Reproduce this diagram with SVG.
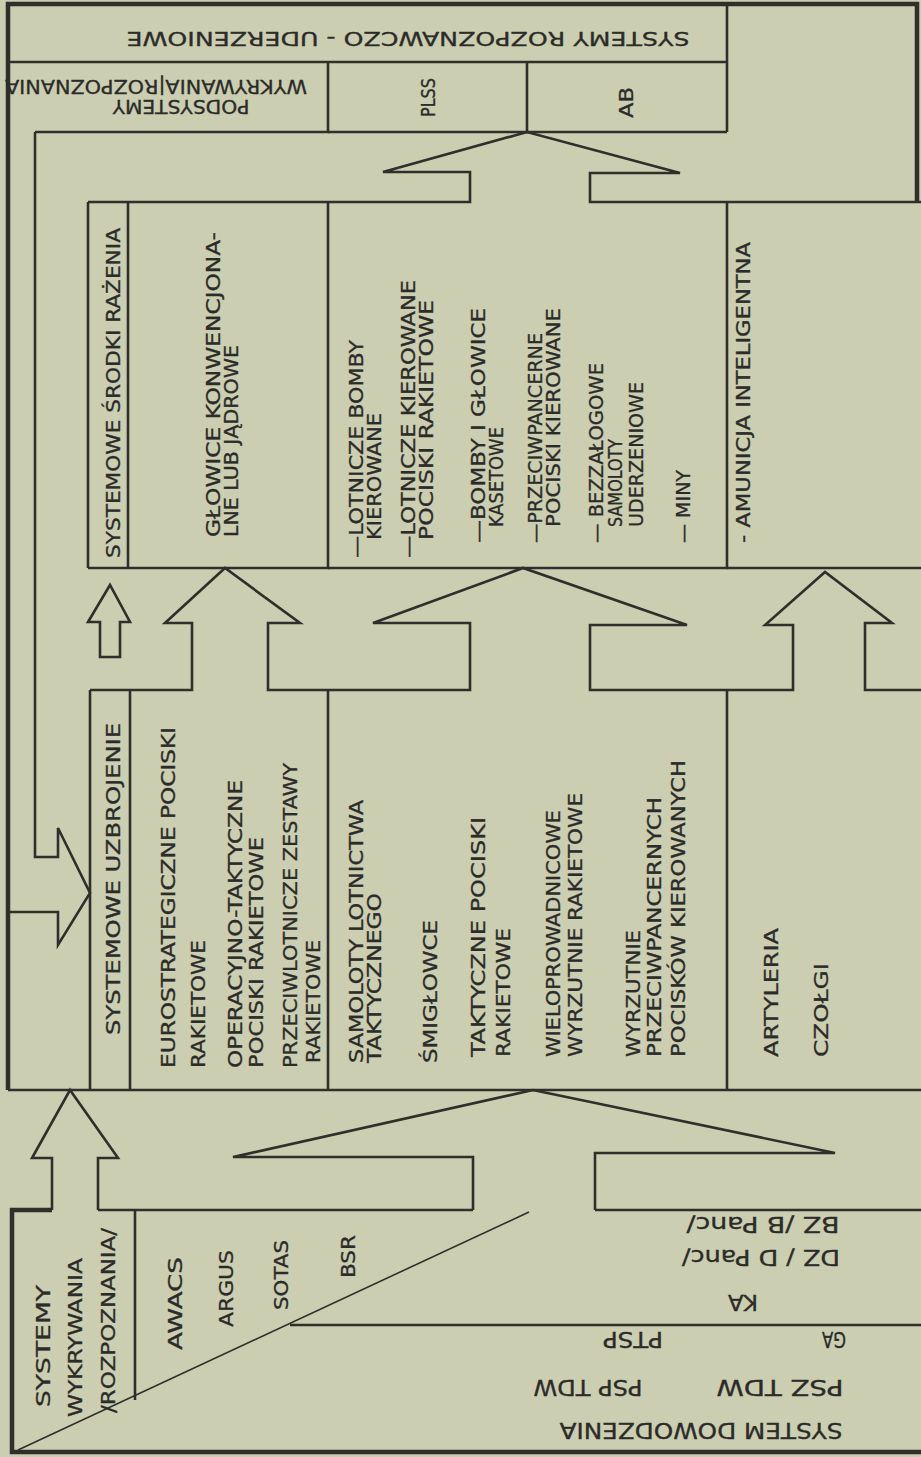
<svg xmlns="http://www.w3.org/2000/svg" width="921" height="1457" viewBox="0 0 921 1457">
<style>
.t{font-family:'DejaVu Sans Condensed','DejaVu Sans','Liberation Sans',sans-serif;font-size:20px;fill:#2b2b29;stroke:#2b2b29;stroke-width:0.3;}
.b{font-size:22px;}
.ln{fill:none;stroke:#2f2f2b;stroke-width:2.6;stroke-linejoin:miter;}
.thick{stroke-width:4.5;}
.thin{stroke-width:1.6;}
</style>
<rect x="0" y="0" width="921" height="1457" fill="#cbceb1"/>

<g id="frame">
<path class="ln thick" d="M917,202 V4 H8 V1090"/>
</g>

<g id="system-rozpoznawczo-uderzeniowe">
<path class="ln" d="M8,62 H727 M727,4 V132"/>
<text class="t" transform="rotate(180 408 32)" x="408" y="32" text-anchor="middle" textLength="563" lengthAdjust="spacingAndGlyphs">SYSTEMY ROZPOZNAWCZO - UDERZENIOWE</text>
</g>

<g id="podsystemy-wykrywania">
<path class="ln" d="M35,132 H328 V62"/>
<text class="t" transform="rotate(180 181 100)" x="181" y="100" text-anchor="middle" textLength="137" lengthAdjust="spacingAndGlyphs">PODSYSTEMY</text>
<text class="t" transform="rotate(180 156 80)" x="156" y="80" text-anchor="middle" textLength="302" lengthAdjust="spacingAndGlyphs">WYKRYWANIA|ROZPOZNANIA</text>
</g>

<g id="plss">
<path class="ln" d="M328,132 H527 V62"/>
<text class="t" transform="rotate(-90 435 117)" x="435" y="117" textLength="39" lengthAdjust="spacingAndGlyphs">PLSS</text>
</g>

<g id="ab">
<path class="ln" d="M527,132 H727"/>
<text class="t" transform="rotate(-90 633 118)" x="633" y="118" textLength="31" lengthAdjust="spacingAndGlyphs">AB</text>
</g>

<g id="srodki-razenia-header">
<path class="ln" d="M88,202 V568 M128,202 V568"/>
<text class="t" transform="rotate(-90 120 558)" x="120" y="558" textLength="330" lengthAdjust="spacingAndGlyphs">SYSTEMOWE ŚRODKI RAŻENIA</text>
</g>

<g id="glowice">
<path class="ln" d="M88,568 H328 V202"/>
<text class="t" transform="rotate(-90 220 537)" x="220" y="537" textLength="305" lengthAdjust="spacingAndGlyphs">GŁOWICE KONWENCJONA-</text>
<text class="t" transform="rotate(-90 238 537)" x="238" y="537" textLength="192" lengthAdjust="spacingAndGlyphs">LNE LUB JĄDROWE</text>
</g>

<g id="lotnicze">
<path class="ln" d="M328,568 H727 V202"/>
<text class="t" transform="rotate(-90 363 558)" x="363" y="558" textLength="218" lengthAdjust="spacingAndGlyphs">—LOTNICZE BOMBY</text>
<text class="t" transform="rotate(-90 381 540)" x="381" y="540" textLength="127" lengthAdjust="spacingAndGlyphs">KIEROWANE</text>
<text class="t" transform="rotate(-90 415 558)" x="415" y="558" textLength="278" lengthAdjust="spacingAndGlyphs">—LOTNICZE KIEROWANE</text>
<text class="t" transform="rotate(-90 433 540)" x="433" y="540" textLength="240" lengthAdjust="spacingAndGlyphs">POCISKI RAKIETOWE</text>
<text class="t" transform="rotate(-90 485 543)" x="485" y="543" textLength="235" lengthAdjust="spacingAndGlyphs">—BOMBY I GŁOWICE</text>
<text class="t" transform="rotate(-90 503 527)" x="503" y="527" textLength="100" lengthAdjust="spacingAndGlyphs">KASETOWE</text>
<text class="t" transform="rotate(-90 542 543)" x="542" y="543" textLength="210" lengthAdjust="spacingAndGlyphs">—PRZECIWPANCERNE</text>
<text class="t" transform="rotate(-90 560 527)" x="560" y="527" textLength="219" lengthAdjust="spacingAndGlyphs">POCISKI KIEROWANE</text>
<text class="t" transform="rotate(-90 603 543)" x="603" y="543" textLength="180" lengthAdjust="spacingAndGlyphs">— BEZZAŁOGOWE</text>
<text class="t" transform="rotate(-90 622 527)" x="622" y="527" textLength="88" lengthAdjust="spacingAndGlyphs">SAMOLOTY</text>
<text class="t" transform="rotate(-90 643 527)" x="643" y="527" textLength="145" lengthAdjust="spacingAndGlyphs">UDERZENIOWE</text>
<text class="t" transform="rotate(-90 690 543)" x="690" y="543" textLength="73" lengthAdjust="spacingAndGlyphs">— MINY</text>
</g>

<g id="amunicja">
<path class="ln" d="M727,568 H921"/>
<text class="t" transform="rotate(-90 750 543)" x="750" y="543" textLength="301" lengthAdjust="spacingAndGlyphs">- AMUNICJA INTELIGENTNA</text>
</g>

<g id="uzbrojenie-header">
<path class="ln" d="M90,690 V1090 M130,690 V1090"/>
<text class="t" transform="rotate(-90 120 1035)" x="120" y="1035" textLength="312" lengthAdjust="spacingAndGlyphs">SYSTEMOWE UZBROJENIE</text>
</g>

<g id="pociski-rakietowe">
<path class="ln" d="M328,690 V1090"/>
<text class="t" transform="rotate(-90 175 1068)" x="175" y="1068" textLength="341" lengthAdjust="spacingAndGlyphs">EUROSTRATEGICZNE POCISKI</text>
<text class="t" transform="rotate(-90 205 1068)" x="205" y="1068" textLength="128" lengthAdjust="spacingAndGlyphs">RAKIETOWE</text>
<text class="t" transform="rotate(-90 242 1068)" x="242" y="1068" textLength="288" lengthAdjust="spacingAndGlyphs">OPERACYJNO-TAKTYCZNE</text>
<text class="t" transform="rotate(-90 263 1068)" x="263" y="1068" textLength="231" lengthAdjust="spacingAndGlyphs">POCISKI RAKIETOWE</text>
<text class="t" transform="rotate(-90 297 1068)" x="297" y="1068" textLength="305" lengthAdjust="spacingAndGlyphs">PRZECIWLOTNICZE ZESTAWY</text>
<text class="t" transform="rotate(-90 320 1063)" x="320" y="1063" textLength="123" lengthAdjust="spacingAndGlyphs">RAKIETOWE</text>
</g>

<g id="lotnictwo-i-wyrzutnie">
<path class="ln" d="M727,690 V1090"/>
<text class="t" transform="rotate(-90 363 1063)" x="363" y="1063" textLength="263" lengthAdjust="spacingAndGlyphs">SAMOLOTY LOTNICTWA</text>
<text class="t" transform="rotate(-90 381 1063)" x="381" y="1063" textLength="170" lengthAdjust="spacingAndGlyphs">TAKTYCZNEGO</text>
<text class="t" transform="rotate(-90 437 1063)" x="437" y="1063" textLength="143" lengthAdjust="spacingAndGlyphs">ŚMIGŁOWCE</text>
<text class="t" transform="rotate(-90 485 1057)" x="485" y="1057" textLength="240" lengthAdjust="spacingAndGlyphs">TAKTYCZNE POCISKI</text>
<text class="t" transform="rotate(-90 510 1057)" x="510" y="1057" textLength="129" lengthAdjust="spacingAndGlyphs">RAKIETOWE</text>
<text class="t" transform="rotate(-90 560 1057)" x="560" y="1057" textLength="247" lengthAdjust="spacingAndGlyphs">WIELOPROWADNICOWE</text>
<text class="t" transform="rotate(-90 582 1057)" x="582" y="1057" textLength="264" lengthAdjust="spacingAndGlyphs">WYRZUTNIE RAKIETOWE</text>
<text class="t" transform="rotate(-90 640 1057)" x="640" y="1057" textLength="127" lengthAdjust="spacingAndGlyphs">WYRZUTNIE</text>
<text class="t" transform="rotate(-90 661 1057)" x="661" y="1057" textLength="260" lengthAdjust="spacingAndGlyphs">PRZECIWPANCERNYCH</text>
<text class="t" transform="rotate(-90 685 1057)" x="685" y="1057" textLength="297" lengthAdjust="spacingAndGlyphs">POCISKÓW KIEROWANYCH</text>
</g>

<g id="artyleria">
<path class="ln" d="M8,1090 H921"/>
<text class="t" transform="rotate(-90 778 1057)" x="778" y="1057" textLength="129" lengthAdjust="spacingAndGlyphs">ARTYLERIA</text>
<text class="t" transform="rotate(-90 828 1057)" x="828" y="1057" textLength="94" lengthAdjust="spacingAndGlyphs">CZOŁGI</text>
</g>

<g id="systemy-wykrywania">
<path class="ln thick" d="M52,1210 H12 V1452 H921"/>
<path class="ln" d="M98,1210 H473 M595,1210 H921"/>
<path class="ln" d="M135,1210 V1400"/>
<path class="ln thin" d="M18,1450 L529,1212"/>
<text class="t" transform="rotate(-90 50 1407)" x="50" y="1407" textLength="122" lengthAdjust="spacingAndGlyphs">SYSTEMY</text>
<text class="t" transform="rotate(-90 82 1417)" x="82" y="1417" textLength="159" lengthAdjust="spacingAndGlyphs">WYKRYWANIA</text>
<text class="t" transform="rotate(-90 115 1413)" x="115" y="1413" textLength="185" lengthAdjust="spacingAndGlyphs">/ROZPOZNANIA/</text>
<text class="t" transform="rotate(-90 182 1350)" x="182" y="1350" textLength="93" lengthAdjust="spacingAndGlyphs">AWACS</text>
<text class="t" transform="rotate(-90 233 1327)" x="233" y="1327" textLength="77" lengthAdjust="spacingAndGlyphs">ARGUS</text>
<text class="t" transform="rotate(-90 288 1310)" x="288" y="1310" textLength="70" lengthAdjust="spacingAndGlyphs">SOTAS</text>
<text class="t" transform="rotate(-90 355 1278)" x="355" y="1278" textLength="43" lengthAdjust="spacingAndGlyphs">BSR</text>
</g>

<g id="system-dowodzenia">
<path class="ln" d="M290,1325 H921"/>
<text class="t b" transform="rotate(180 763 1217)" x="763" y="1217" text-anchor="middle" textLength="153" lengthAdjust="spacingAndGlyphs">BZ /B Panc/</text>
<text class="t b" transform="rotate(180 761 1250)" x="761" y="1250" text-anchor="middle" textLength="158" lengthAdjust="spacingAndGlyphs">DZ / D Panc/</text>
<text class="t b" transform="rotate(180 743 1295)" x="743" y="1295" text-anchor="middle" textLength="30" lengthAdjust="spacingAndGlyphs">KA</text>
<text class="t b" transform="rotate(180 834 1332)" x="834" y="1332" text-anchor="middle" textLength="24" lengthAdjust="spacingAndGlyphs">GA</text>
<text class="t b" transform="rotate(180 633 1332)" x="633" y="1332" text-anchor="middle" textLength="60" lengthAdjust="spacingAndGlyphs">PTSP</text>
<text class="t b" transform="rotate(180 780 1380)" x="780" y="1380" text-anchor="middle" textLength="127" lengthAdjust="spacingAndGlyphs">PSZ TDW</text>
<text class="t b" transform="rotate(180 588 1380)" x="588" y="1380" text-anchor="middle" textLength="109" lengthAdjust="spacingAndGlyphs">PSP TDW</text>
<text class="t b" transform="rotate(180 701 1423)" x="701" y="1423" text-anchor="middle" textLength="283" lengthAdjust="spacingAndGlyphs">SYSTEM DOWODZENIA</text>
</g>

<g id="connectors">
<path class="ln" d="M35,132 V857 H58 V828 L90,893 L58,945 V912 H8"/>
<path class="ln" d="M88,202 H470 V172 H383 L527,132 L680,173 H590 V202 H921"/>
<path class="ln" d="M100,657 V622 H88 L110,585 L130,622 H120 V657 Z"/>
<path class="ln" d="M90,690 H192 V623 H165 L225,568 L300,623 H268 V690 H470 V623 H373 L523,568 L687,625 H590 V690 H793 V625 H765 L825,572 L892,623 H865 V690 H921"/>
<path class="ln" d="M52,1210 V1158 H32 L70,1090 L118,1158 H98 V1210"/>
<path class="ln" d="M473,1210 V1157 H233 L533,1090 L835,1153 H595 V1210"/>
</g>
</svg>
